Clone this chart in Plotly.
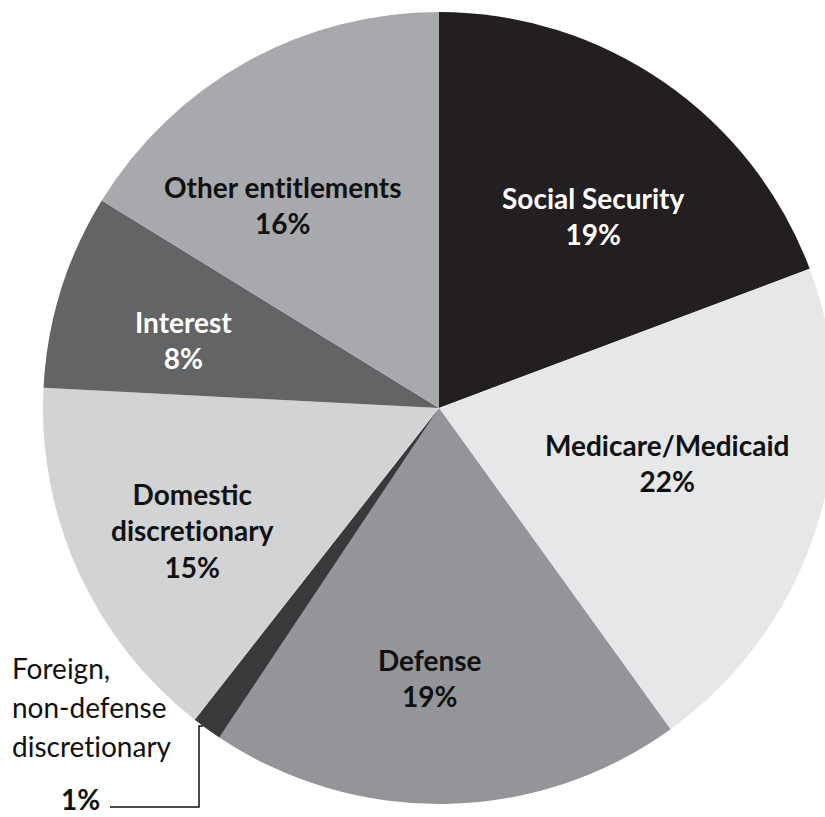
import plotly.graph_objects as go

# Data (clockwise from 12 o'clock)
categories = ["Social Security", "Medicare/Medicaid", "Defense",
              "Foreign, non-defense discretionary", "Domestic discretionary",
              "Interest", "Other entitlements"]
shares = [19.28, 20.78, 19.30, 1.22, 15.23, 7.97, 16.22]
pct_labels = ["19%", "22%", "19%", "1%", "15%", "8%", "16%"]
colors = ["#231f20", "#e6e7e8", "#939598", "#3a3a3c", "#d1d3d4", "#636466", "#a7a9ac"]

W, H = 835, 817
ZW = "\u200c"  # break "ti" ligature

def px(x, y):
    return x / W, 1 - y / H

fig = go.Figure(go.Pie(
    labels=categories, values=shares, sort=False, direction="clockwise",
    rotation=0, marker=dict(colors=colors, line=dict(width=0)),
    textinfo="none", hoverinfo="label+percent", showlegend=False,
    domain=dict(x=[43 / W, 835 / W], y=[13 / H, 805 / H]),
))

BOLD = dict(family="Lato", size=28, weight="bold")

inside = [
    # (label text, pct index, x, y, color)
    ("Social Security", 0, 593, 216, "white"),
    ("Medicare/Medicaid", 1, 667, 463, "#111"),
    ("Defense", 2, 430, 678, "#111"),
    (f"Domestic<br>discret{ZW}ionary", 4, 192, 530, "#111"),
    ("Interest", 5, 183, 340, "white"),
    (f"Other ent{ZW}it{ZW}lements", 6, 283, 205, "#111"),
]
annotations = []
for txt, i, x, y, c in inside:
    ax, ay = px(x, y)
    annotations.append(dict(
        text=f"{txt}<br>{pct_labels[i]}", x=ax, y=ay, xref="paper", yref="paper",
        showarrow=False, xanchor="center", yanchor="middle", align="center",
        font=dict(color=c, **BOLD)))

foreign_lines = ["Foreign,", "non-defense", f"discret{ZW}ionary"]
for k, line in enumerate(foreign_lines):
    fx, fy = px(10, 668 + 39 * k)
    annotations.append(dict(
        text=line, x=fx, y=fy, xref="paper", yref="paper", showarrow=False,
        xanchor="left", yanchor="middle", align="left",
        font=dict(family="Lato", size=28, color="#111")))
px1, _ = px(80, 0)
annotations.append(dict(
    text=pct_labels[3], x=px1, y=0, xref="paper", yref="paper",
    showarrow=False, xanchor="center", yanchor="bottom", borderpad=0,
    font=dict(color="#111", **BOLD)))

pts = [(110, 807), (199, 807), (199, 726), (203, 726)]
path = "M " + " L ".join(f"{px(a, b)[0]},{px(a, b)[1]}" for a, b in pts)

fig.update_layout(
    width=W, height=H, margin=dict(l=0, r=0, t=0, b=0),
    paper_bgcolor="white", plot_bgcolor="white",
    annotations=annotations,
    shapes=[dict(type="path", path=path, xref="paper", yref="paper",
                 line=dict(color="#111", width=1.5))],
)

fig.write_html("out.html", config={"displayModeBar": False},
               post_script="document.body.style.margin='0';document.body.style.overflow='hidden';")
